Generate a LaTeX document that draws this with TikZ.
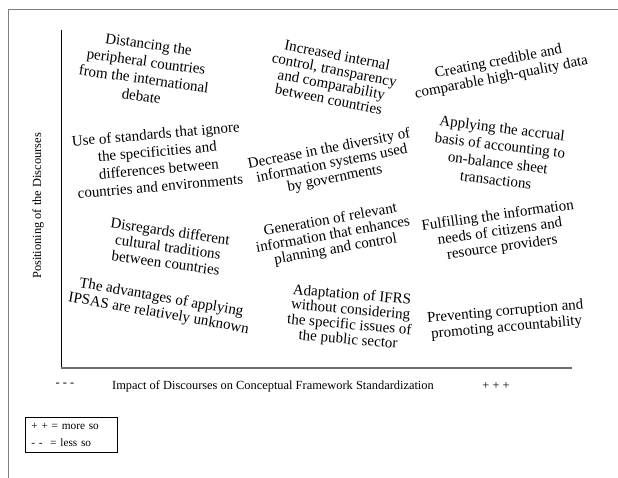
\documentclass[tikz,border=0pt]{standalone}
\usepackage{fontspec}
\setmainfont{Liberation Serif}
\usetikzlibrary{positioning}
\definecolor{framegray}{HTML}{7F7F7F}
\definecolor{axisgray}{HTML}{6E6E6E}

\begin{document}
\begin{tikzpicture}[
  x=1pt, y=-1pt,
  font=\fontsize{15}{16}\selectfont,
  disc/.style={align=center, inner sep=1pt},
  loose/.style={font=\fontsize{15}{17.5}\selectfont},
  tight/.style={font=\fontsize{15}{15}\selectfont},
  axlabel/.style={font=\fontsize{12.4}{14}\selectfont},
  keybox/.style={draw, line width=0.8pt, align=left, text width=80pt, inner sep=6pt, font=\fontsize{11.3}{16.5}\selectfont}
]
\useasboundingbox (0,0) rectangle (618,478);
\draw[framegray, line width=1pt] (8,478) -- (8,10) -- (618,10);

% axes
\coordinate (orig) at (61,368);
\coordinate (ytop) at (61,30);
\coordinate (xend) at (572,368);
\draw[line width=0.8pt] (ytop) -- (orig);
\draw[axisgray, line width=1.3pt] (orig) -- (xend);

\node[axlabel, rotate=90] (ylab) at (38,206) {Positioning of the Discourses};
\node[axlabel] (xlab) at (273,386) {Impact of Discourses on Conceptual Framework Standardization};
\node[axlabel] (xlow) at (65,385) {- - -};
\node[axlabel] (xhigh) at (496,386) {+ + +};

% discourses, top row
\node[disc, loose, rotate=-8] (distancing) at (145,70) {Distancing the\\peripheral countries\\from the international\\debate};
\node[disc, tight, rotate=-11] (control) at (333,77) {Increased internal\\control, transparency\\and comparability\\between countries};
\node[disc, rotate=11] (credible) at (500,70) {Creating credible and\\comparable high-quality data};

% second row
\node[disc, loose, rotate=5] (ignore) at (158,160) {Use of standards that ignore\\the specificities and\\differences between\\countries and environments};
\node[disc, tight, rotate=11] (diversity) at (332,164) {Decrease in the diversity of\\information systems used\\by governments};
\node[disc, loose, rotate=-7] (accrual) at (499,154) {Applying the accrual\\basis of accounting to\\on-balance sheet\\transactions};

% third row
\node[disc, rotate=-8] (cultural) at (168,247) {Disregards different\\cultural traditions\\between countries};
\node[disc, tight, rotate=10] (relevant) at (333,235) {Generation of relevant\\information that enhances\\planning and control};
\node[disc, rotate=8] (needs) at (500,232) {Fulfilling the information\\needs of citizens and\\resource providers};

% bottom row
\node[disc, rotate=-10] (unknown) at (160,306) {The advantages of applying\\IPSAS are relatively unknown};
\node[disc, tight, rotate=-5] (ifrs) at (350,318) {Adaptation of IFRS\\without considering\\the specific issues of\\the public sector};
\node[disc, rotate=5] (corruption) at (506,320) {Preventing corruption and\\promoting accountability};

% key
\node[keybox, anchor=north west] (key) at (25,417) {+ + = more so\\- -\ \ = less so};
\end{tikzpicture}
\end{document}
